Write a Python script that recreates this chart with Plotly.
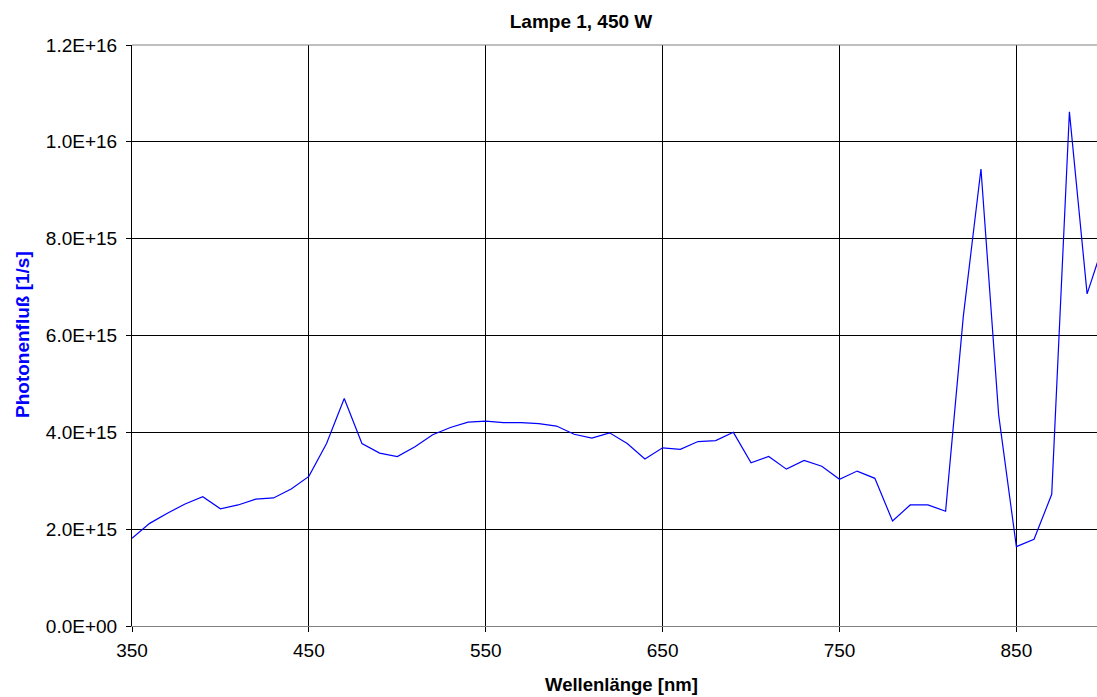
import plotly.graph_objects as go

wavelength_nm = [350, 360, 370, 380, 390, 400, 410, 420, 430, 440,
                 450, 460, 470, 480, 490, 500, 510, 520, 530, 540,
                 550, 560, 570, 580, 590, 600, 610, 620, 630, 640,
                 650, 660, 670, 680, 690, 700, 710, 720, 730, 740,
                 750, 760, 770, 780, 790, 800, 810, 820, 830, 840,
                 850, 860, 870, 880, 890, 900]
photon_flux_e15 = [1.81, 2.12, 2.33, 2.52, 2.67, 2.42, 2.50, 2.62, 2.645, 2.83,
                   3.09, 3.77, 4.70, 3.77, 3.57, 3.50, 3.70, 3.95, 4.10, 4.21,
                   4.23, 4.20, 4.20, 4.18, 4.13, 3.96, 3.88, 3.99, 3.77, 3.45,
                   3.68, 3.65, 3.81, 3.83, 4.00, 3.37, 3.50, 3.24, 3.42, 3.30,
                   3.03, 3.20, 3.05, 2.17, 2.50, 2.50, 2.37, 6.39, 9.44, 4.36,
                   1.64, 1.79, 2.72, 10.62, 6.86, 7.97]
photon_flux = [v * 1e15 for v in photon_flux_e15]

x_tick_vals = [350, 450, 550, 650, 750, 850]
y_tick_vals = [0, 2e15, 4e15, 6e15, 8e15, 1.0e16, 1.2e16]
y_tick_text = ["0.0E+00", "2.0E+15", "4.0E+15", "6.0E+15", "8.0E+15", "1.0E+16", "1.2E+16"]

FONT = "Liberation Sans, Arial, sans-serif"

fig = go.Figure()
fig.add_trace(go.Scatter(
    x=wavelength_nm, y=photon_flux, mode="lines",
    line=dict(color="#0000FF", width=1.2), showlegend=False,
))

fig.update_layout(
    width=1097, height=697,
    margin=dict(l=132, r=0, t=45, b=71),
    paper_bgcolor="white", plot_bgcolor="white",
    font=dict(family=FONT, size=19, color="black"),
    title=dict(text="<b>Lampe 1, 450 W</b>", xref="container", x=581/1097,
               xanchor="center", yref="container", y=1-21/697, yanchor="middle",
               font=dict(family=FONT, size=19, color="black")),
    xaxis=dict(range=[350, 895.6], tickvals=x_tick_vals, showgrid=True,
               gridcolor="black", gridwidth=1, showline=True, linecolor="#808080",
               linewidth=1, mirror=False, ticks="outside", ticklen=5, tickcolor="black",
               zeroline=False, ticklabelstandoff=2,
               tickfont=dict(family=FONT, size=19, color="black")),
    yaxis=dict(range=[0, 1.2e16], tickvals=y_tick_vals, ticktext=y_tick_text,
               showgrid=True, gridcolor="black", gridwidth=1, showline=True,
               linecolor="black", linewidth=1, ticks="outside", ticklen=5,
               tickcolor="black", zeroline=False, ticklabelstandoff=5,
               tickfont=dict(family=FONT, size=19, color="black")),
    shapes=[dict(type="line", xref="paper", yref="paper", x0=0, x1=1, y0=1, y1=1,
                 line=dict(color="#808080", width=1))],
    annotations=[
        dict(text="<b>Wellenlänge [nm]</b>", xref="paper", yref="paper",
             x=(621-132)/965, y=-(684-626)/581, xanchor="center", yanchor="middle",
             showarrow=False, font=dict(family=FONT, size=18.5, color="black")),
        dict(text="<b>Photonenfluß [1/s]</b>", xref="paper", yref="paper",
             x=(22-132)/965, y=(626-335)/581, xanchor="center", yanchor="middle",
             textangle=-90, showarrow=False,
             font=dict(family=FONT, size=19, color="#0000FF")),
    ],
)

fig.write_html("out.html")
